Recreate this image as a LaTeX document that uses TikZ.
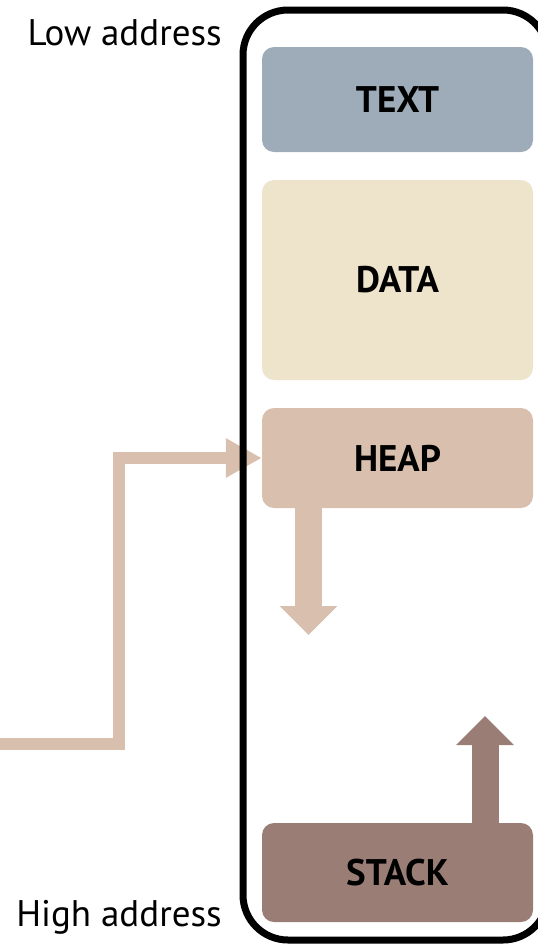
\documentclass[tikz,border=0pt]{standalone}
\usepackage{fontspec}
\setmainfont{PT Sans}
\usetikzlibrary{arrows.meta}
\definecolor{textcol}{HTML}{9DACB8}
\definecolor{datacol}{HTML}{EEE3CB}
\definecolor{heapcol}{HTML}{D9BFAD}
\definecolor{stackcol}{HTML}{9A7E76}
\tikzset{
  segment/.style={rounded corners=12pt, minimum width=271pt, inner sep=0pt,
    font=\fontsize{37}{37}\selectfont\bfseries, text=black},
  addr/.style={anchor=base east, inner sep=0pt, font=\fontsize{37}{37}\selectfont},
  growarrow/.style={line width=27pt, -{Triangle[length=29pt,width=56pt]}},
  memframe/.style={draw=black, line width=7pt, rounded corners=45pt}
}
\begin{document}
\begin{tikzpicture}[x=1pt,y=-1pt]
\useasboundingbox (0,0) rectangle (538,946);
\clip (0,0) rectangle (538,946);
% memory segments
\node[segment, fill=textcol, minimum height=105pt] (text) at (397.5,99.5) {TEXT};
\node[segment, fill=datacol, minimum height=200pt] (data) at (397.5,280) {DATA};
\node[segment, fill=heapcol, minimum height=100pt] (heap) at (397.5,458) {HEAP};
\node[segment, fill=stackcol, minimum height=99pt] (stack) at (397.5,872.5) {STACK};
% growth directions
\coordinate (heapgrow) at (308.5,635);
\coordinate (stackgrow) at (485,716);
\draw[growarrow, heapcol] (heap.south -| heapgrow) -- (heapgrow);
\draw[growarrow, stackcol] (stack.north -| stackgrow) -- (stackgrow);
% allocation path into the heap
\coordinate (src) at (-10,744);
\draw[heapcol, line width=12pt, -{Triangle[length=36pt,width=37pt]}]
  (src) -- (119,744) |- (heap.west);
% address space outline
\draw[memframe] (243,10) rectangle (548,940);
% address labels
\node[addr] (low) at (222,45) {Low address};
\node[addr] (high) at (222,926) {High address};
\end{tikzpicture}
\end{document}
